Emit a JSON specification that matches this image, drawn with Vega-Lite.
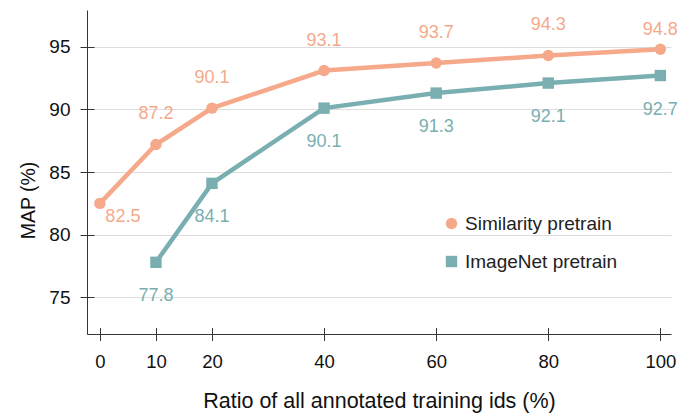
{
  "$schema": "https://vega.github.io/schema/vega-lite/v6.json",
  "width": 584,
  "height": 324,
  "autosize": "none",
  "padding": {"left": 87, "top": 10, "right": 12, "bottom": 79},
  "background": "white",
  "config": {
    "view": {"stroke": null},
    "font": "Liberation Sans",
    "axis": {"labelFont": "Liberation Sans", "titleFont": "Liberation Sans", "labelColor": "#111", "titleColor": "#111", "titleFontWeight": "normal"},
    "text": {"font": "Liberation Sans"},
    "legend": {"orient": "none", "legendX": 355, "legendY": 204, "title": null, "labelFontSize": 19, "labelFont": "Liberation Sans",
      "labelColor": "#222", "symbolSize": 130, "symbolStrokeWidth": 0, "labelOffset": 4, "rowPadding": 18}
  },
  "data": {
    "values": [
      {"ratio": 0, "map": 82.5, "model": "Similarity pretrain"},
      {"ratio": 10, "map": 87.2, "model": "Similarity pretrain"},
      {"ratio": 20, "map": 90.1, "model": "Similarity pretrain"},
      {"ratio": 40, "map": 93.1, "model": "Similarity pretrain"},
      {"ratio": 60, "map": 93.7, "model": "Similarity pretrain"},
      {"ratio": 80, "map": 94.3, "model": "Similarity pretrain"},
      {"ratio": 100, "map": 94.8, "model": "Similarity pretrain"},
      {"ratio": 10, "map": 77.8, "model": "ImageNet pretrain"},
      {"ratio": 20, "map": 84.1, "model": "ImageNet pretrain"},
      {"ratio": 40, "map": 90.1, "model": "ImageNet pretrain"},
      {"ratio": 60, "map": 91.3, "model": "ImageNet pretrain"},
      {"ratio": 80, "map": 92.1, "model": "ImageNet pretrain"},
      {"ratio": 100, "map": 92.7, "model": "ImageNet pretrain"}
    ]
  },
  "resolve": {"axis": {"x": "independent", "y": "independent"}},
  "layer": [
    {
      "mark": {"type": "line", "strokeWidth": 4.5},
      "encoding": {
        "x": {"field": "ratio", "type": "quantitative",
          "scale": {"domain": [-2.3, 101.9], "nice": false, "zero": false},
          "axis": {"orient": "bottom", "values": [0, 10, 20, 40, 60, 80, 100], "title": "Ratio of all annotated training ids (%)",
            "domain": true, "domainColor": "#333", "ticks": false, "grid": false,
            "labelFontSize": 18.5, "labelPadding": 18, "titleFontSize": 21.5, "titlePadding": 20}},
        "y": {"field": "map", "type": "quantitative",
          "scale": {"domain": [72.08, 97.93], "nice": false, "zero": false},
          "axis": {"orient": "left", "values": [75, 80, 85, 90, 95], "title": "MAP (%)",
            "domain": true, "domainColor": "#333", "ticks": false, "grid": true, "gridColor": "#dddddd",
            "labelFontSize": 19, "labelPadding": 17, "titleFontSize": 19.5,
            "titleX": -59, "titleY": 190, "titleAlign": "center", "titleBaseline": "middle", "titleAngle": -90}},
        "color": {"field": "model", "type": "nominal",
          "scale": {"domain": ["Similarity pretrain", "ImageNet pretrain"], "range": ["#F5A98A", "#79AFB1"]}},
        "detail": {"field": "model"}
      }
    },
    {
      "mark": {"type": "point", "filled": true, "opacity": 1, "size": 130},
      "encoding": {
        "x": {"field": "ratio", "type": "quantitative",
          "axis": {"orient": "bottom", "values": [0, 10, 20, 40, 60, 80, 100], "title": null, "domain": false, "labels": false,
            "ticks": true, "tickSize": 13, "tickColor": "#333", "offset": -6.5, "grid": false}},
        "y": {"field": "map", "type": "quantitative",
          "axis": {"orient": "left", "values": [75, 80, 85, 90, 95], "title": null, "domain": false, "labels": false,
            "ticks": true, "tickSize": 14, "tickColor": "#333", "offset": -7, "grid": false}},
        "color": {"field": "model", "type": "nominal"},
        "shape": {"field": "model", "type": "nominal",
          "scale": {"domain": ["Similarity pretrain", "ImageNet pretrain"], "range": ["circle", "square"]}}
      }
    },
    {
      "transform": [{"filter": "datum.model == 'Similarity pretrain' && datum.ratio > 0 && datum.ratio < 100"}],
      "mark": {"type": "text", "fontSize": 18, "dy": -30, "baseline": "middle"},
      "encoding": {
        "x": {"field": "ratio", "type": "quantitative", "axis": null},
        "y": {"field": "map", "type": "quantitative", "axis": null},
        "text": {"field": "map", "type": "quantitative", "format": ".1f"},
        "color": {"field": "model", "type": "nominal"}
      }
    },
    {
      "transform": [{"filter": "datum.model == 'Similarity pretrain' && datum.ratio == 100"}],
      "mark": {"type": "text", "fontSize": 18, "dy": -19, "baseline": "middle"},
      "encoding": {
        "x": {"field": "ratio", "type": "quantitative", "axis": null},
        "y": {"field": "map", "type": "quantitative", "axis": null},
        "text": {"field": "map", "type": "quantitative", "format": ".1f"},
        "color": {"field": "model", "type": "nominal"}
      }
    },
    {
      "transform": [{"filter": "datum.model == 'Similarity pretrain' && datum.ratio == 0"}],
      "mark": {"type": "text", "fontSize": 18, "dx": 23, "dy": 14, "baseline": "middle"},
      "encoding": {
        "x": {"field": "ratio", "type": "quantitative", "axis": null},
        "y": {"field": "map", "type": "quantitative", "axis": null},
        "text": {"field": "map", "type": "quantitative", "format": ".1f"},
        "color": {"field": "model", "type": "nominal"}
      }
    },
    {
      "transform": [{"filter": "datum.model == 'ImageNet pretrain'"}],
      "mark": {"type": "text", "fontSize": 18, "dy": 34, "baseline": "middle"},
      "encoding": {
        "x": {"field": "ratio", "type": "quantitative", "axis": null},
        "y": {"field": "map", "type": "quantitative", "axis": null},
        "text": {"field": "map", "type": "quantitative", "format": ".1f"},
        "color": {"field": "model", "type": "nominal"}
      }
    }
  ]
}
